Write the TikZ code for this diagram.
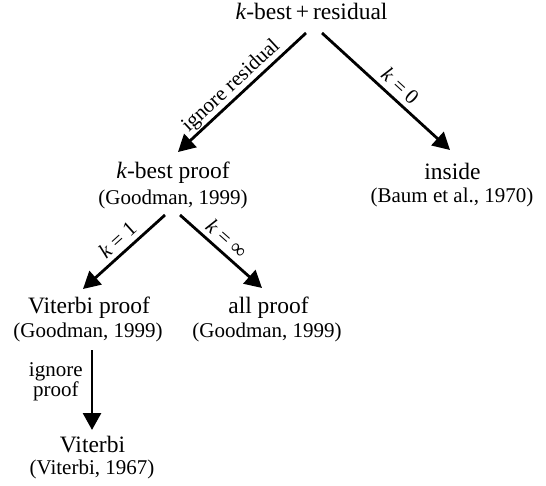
\documentclass[tikz,border=0pt]{standalone}
\usepackage{fontspec}
\setmainfont{Liberation Serif}
\usetikzlibrary{arrows.meta}
\begin{document}
\begin{tikzpicture}[x=1pt,y=-1pt,
  main/.style={font=\fontsize{23.5}{28}\selectfont, inner sep=0pt, anchor=base},
  cite/.style={font=\fontsize{21}{25}\selectfont, inner sep=0pt, anchor=base},
  arr/.style={line width=2.8pt, -{Triangle[length=17pt,width=18pt]}},
  lab/.style={font=\fontsize{21}{25}\selectfont, sloped, above, inner sep=1pt},
  klab/.style={inner sep=5pt}]
\useasboundingbox (0,0) rectangle (546,486);
\node[main] (top) at (311.5,20) {\textit{k}-best\,+\,residual};
\node[main] (kb) at (173,179) {\textit{k}-best proof};
\node[cite] (kbc) at (173,205) {(Goodman, 1999)};
\node[main] (in) at (452.5,180) {inside};
\node[cite] (inc) at (452,203) {(Baum et al., 1970)};
\node[main] (vp) at (89,313) {Viterbi proof};
\node[cite] (vpc) at (88,337) {(Goodman, 1999)};
\node[main] (ap) at (268.5,313) {all proof};
\node[cite] (apc) at (267,337) {(Goodman, 1999)};
\node[main] (vi) at (92.5,452) {Viterbi};
\node[cite] (vic) at (92,474) {(Viterbi, 1967)};
\draw[arr] ([shift={(-5.5,13)}]top.base) -- node[lab, pos=0.52] {ignore residual} ([shift={(5,-27)}]kb.base);
\draw[arr] ([shift={(10.5,13)}]top.base) -- node[lab, klab, pos=0.54] {\textit{k}\hspace{0.25em}=\hspace{0.25em}0} ([shift={(-2.5,-30)}]in.base);
\draw[arr] ([shift={(-8,10)}]kbc.base) -- node[lab, klab, pos=0.47] {\textit{k}\hspace{0.25em}=\hspace{0.25em}1} ([shift={(-6,-24)}]vp.base);
\draw[arr] ([shift={(7,10)}]kbc.base) -- node[lab, klab, pos=0.46] {\textit{k}\hspace{0.25em}=\hspace{0.25em}∞} ([shift={(-6.5,-25)}]ap.base);
\draw[arr] ([shift={(4,13)}]vpc.base) -- node[font=\fontsize{21}{19}\selectfont, left, align=center, pos=0.4, inner sep=2pt, xshift=-6pt] {ignore\\proof} ([shift={(-0.5,-22)}]vi.base);
\end{tikzpicture}
\end{document}
